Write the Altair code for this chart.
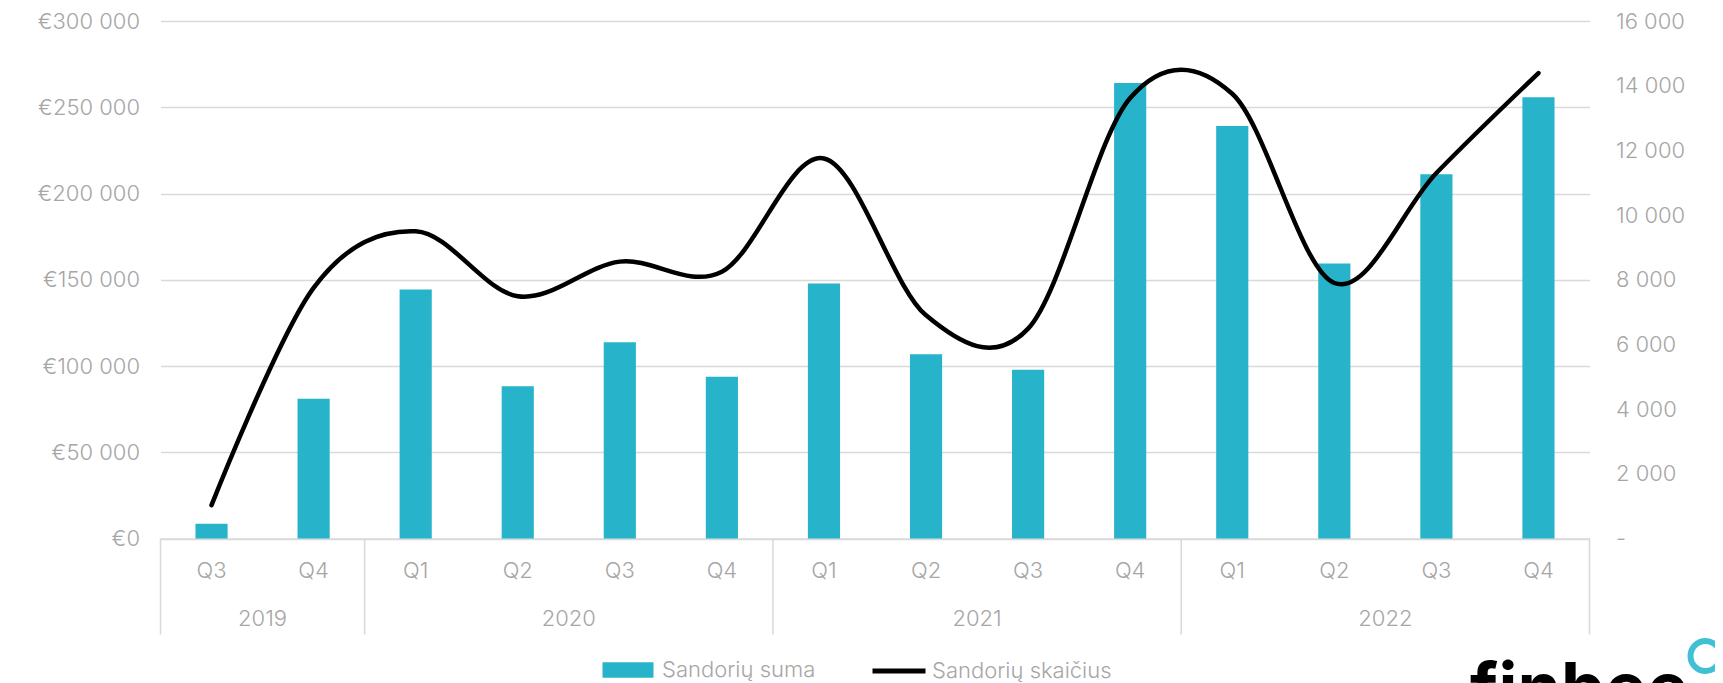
import altair as alt
import pandas as pd

# ---- data ----
years = ["2019", "2019", "2020", "2020", "2020", "2020", "2021", "2021",
         "2021", "2021", "2022", "2022", "2022", "2022"]
quarters = ["Q3", "Q4", "Q1", "Q2", "Q3", "Q4", "Q1", "Q2",
            "Q3", "Q4", "Q1", "Q2", "Q3", "Q4"]
amount = [8500, 81000, 144400, 88200, 113700, 93800, 147800, 106800,
          97800, 264000, 239200, 159400, 211200, 255800]
count = [1030, 7750, 9500, 7490, 8560, 8250, 11750, 6900,
         6490, 13620, 13750, 7900, 11300, 14390]

year_names = ["2019", "2020", "2021", "2022"]
year_label_anchor = ["2019 Q4", "2020 Q3", "2021 Q3", "2022 Q3"]
separator_anchor = ["2019 Q3", "2020 Q1", "2021 Q1", "2022 Q1"]
end_anchor = ["2022 Q4"]

left_ticks = [0, 50000, 100000, 150000, 200000, 250000, 300000]
right_ticks = [0, 2000, 4000, 6000, 8000, 10000, 12000, 14000, 16000]

series_bar = "Sandorių suma"
series_line = "Sandorių skaičius"

keys = [f"{y} {q}" for y, q in zip(years, quarters)]
df = pd.DataFrame({"key": keys, "amount": amount, "count": count})
df["bar_series"] = series_bar
df["line_series"] = series_line

W, H = 1429, 517.5
TOP = 13
TEAL = "#27B3CA"
GREY_TXT = "#A6A6A6"
GRID = "#D9D9D9"
FONT = "Inter"
FW = 300
FS = 22

# legend / decoration offsets relative to the plot's top-left corner
LEG_Y = 670 - 8 - TOP

xscale = alt.Scale(domain=keys, paddingInner=0, paddingOuter=0)
xaxis = alt.Axis(labelExpr="split(datum.value, ' ')[1]", labelAngle=0,
                 ticks=False, domainColor=GRID, domainWidth=1.5,
                 labelFontSize=FS, labelColor=GREY_TXT, labelFont=FONT,
                 labelFontWeight=FW, labelBaseline="middle",
                 labelPadding=32, grid=False, title=None)


def xenc(field, band=0.5):
    return alt.X(field, scale=xscale, axis=xaxis, bandPosition=band, title=None)


bars = alt.Chart(df).mark_bar(width=alt.RelativeBandSize(0.315)).encode(
    x=xenc("key:N"),
    y=alt.Y("amount:Q", scale=alt.Scale(domain=[0, 300000], nice=False), title=None,
            axis=alt.Axis(values=left_ticks,
                          labelExpr="'€' + replace(format(datum.value, ','), ',', ' ')",
                          grid=True, gridColor=GRID, gridWidth=1.5, domain=False,
                          ticks=False, labelPadding=21, labelFontSize=FS,
                          labelColor=GREY_TXT, labelFont=FONT, labelFontWeight=FW)),
    fill=alt.Fill("bar_series:N",
                  scale=alt.Scale(domain=[series_bar], range=[TEAL]),
                  legend=alt.Legend(orient="none", legendX=439.5, legendY=LEG_Y - 11,
                                    title=None, symbolType="M-1,-0.9H5V0.9H-1Z",
                                    symbolSize=289, symbolStrokeWidth=0,
                                    labelOffset=40, labelFontSize=FS, labelLimit=400,
                                    labelColor=GREY_TXT, labelFont=FONT,
                                    labelFontWeight=FW, padding=0)),
)

line = alt.Chart(df).mark_line(interpolate="cardinal", tension=0, strokeWidth=4.5,
                                strokeCap="round").encode(
    x=xenc("key:N"),
    y=alt.Y("count:Q", scale=alt.Scale(domain=[0, 16000], nice=False), title=None,
            axis=alt.Axis(orient="right", values=right_ticks,
                          labelExpr="datum.value == 0 ? '-' : replace(format(datum.value, ','), ',', ' ')",
                          grid=False, domain=False, ticks=False, labelPadding=26,
                          labelAlign="left", labelFontSize=FS, labelColor=GREY_TXT,
                          labelFont=FONT, labelFontWeight=FW)),
    stroke=alt.Stroke("line_series:N",
                      scale=alt.Scale(domain=[series_line], range=["#000000"]),
                      legend=alt.Legend(orient="none", legendX=709.5, legendY=LEG_Y - 28,
                                        title=None, symbolType="stroke",
                                        symbolSize=2809, symbolStrokeWidth=5,
                                        labelOffset=4, labelFontSize=FS, labelLimit=400,
                                        labelColor=GREY_TXT, labelFont=FONT,
                                        labelFontWeight=FW, padding=0)),
)

seps = alt.Chart(pd.DataFrame({"anchor": separator_anchor})).mark_rule(
    color=GRID, strokeWidth=1.5).encode(
    x=xenc("anchor:N", 0),
    y=alt.value(H), y2=alt.value(H + 96))

end_sep = alt.Chart(pd.DataFrame({"anchor": end_anchor})).mark_rule(
    color=GRID, strokeWidth=1.5).encode(
    x=xenc("anchor:N", 1),
    y=alt.value(H), y2=alt.value(H + 96))

year_labels = alt.Chart(pd.DataFrame({"anchor": year_label_anchor, "year": year_names})).mark_text(
    fontSize=FS, color=GREY_TXT, font=FONT, fontWeight=FW, baseline="middle").encode(
    x=xenc("anchor:N", 0),
    y=alt.value(H + 80.5), text="year:N")

logo = alt.Chart(pd.DataFrame({"t": ["finbee"]})).mark_text(
    font="Inter", fontWeight="bold", fontSize=70, align="left",
    baseline="alphabetic", color="#000000").encode(
    x=alt.value(1309.5), y=alt.value(705 - TOP), text="t:N")

icon = alt.Chart(pd.DataFrame({"t": ["icon"]})).mark_point(
    shape="circle", filled=False, strokeWidth=6, size=900, color="#3FC1D3",
    opacity=1).encode(x=alt.value(1545), y=alt.value(648 - TOP))

chart = alt.layer(bars, line, seps, end_sep, year_labels, logo, icon).resolve_scale(
    y="independent"
).properties(
    width=W, height=H,
    padding={"left": 152.5, "top": TOP, "right": 125, "bottom": 160},
    autosize=alt.AutoSizeParams(type="none"),
).configure_view(stroke=None)

chart.save("out.html", embed_options={"renderer": "svg", "actions": False})
